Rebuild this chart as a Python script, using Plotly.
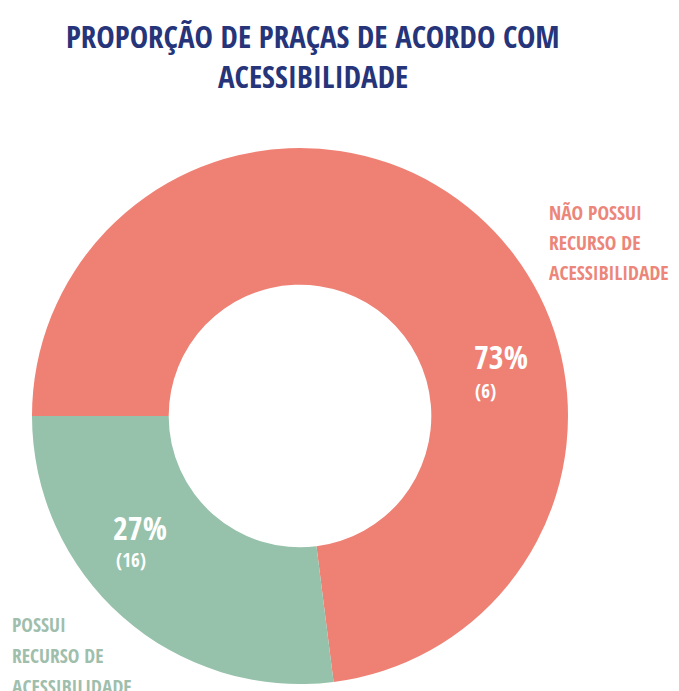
import plotly.graph_objects as go

# ---- data ----
title_lines = ["PROPORÇÃO DE PRAÇAS DE ACORDO COM", "ACESSIBILIDADE"]
categories = ["NÃO POSSUI RECURSO DE ACESSIBILIDADE", "POSSUI RECURSO DE ACESSIBILIDADE"]
percent_values = [73, 27]
count_labels = ["(6)", "(16)"]
label_lines_red = ["NÃO POSSUI", "RECURSO DE", "ACESSIBILIDADE"]
label_lines_green = ["POSSUI", "RECURSO DE", "ACESSIBILIDADE"]

OFF = 8  # page body margin
W, H = 679 - OFF, 691 - OFF  # figure fits inside the window (no scrollbars)
FONT = "Open Sans Condensed, Roboto Condensed, sans-serif"
RED = "#EF8074"
GREEN = "#96C1AA"
NAVY = "#26347A"
RED_TXT = "#EC867A"
GREEN_TXT = "#A0BEAC"

cx, cy, R = 300, 416, 268


def px(x):
    return (x - OFF) / W


def py(y):
    return 1 - (y - OFF) / H


fig = go.Figure(go.Pie(
    labels=categories,
    values=percent_values,
    hole=0.49,
    sort=False,
    direction="clockwise",
    rotation=270,
    marker=dict(colors=[RED, GREEN], line=dict(width=0)),
    textinfo="none",
    hoverinfo="label+percent",
    showlegend=False,
    domain=dict(x=[px(cx - R), px(cx + R)], y=[max(0, py(cy + R)), py(cy - R)]),
))

ann = []
# title
for t, y in zip(title_lines, [36, 76]):
    ann.append(dict(x=px(313), y=py(y), xref="paper", yref="paper", text="<b>%s</b>" % t,
                    showarrow=False, xanchor="center", yanchor="middle",
                    font=dict(family=FONT, size=31, color=NAVY)))

# percentages inside slices
pct_pos = [(472, 356), (111, 527)]
cnt_pos = [(473, 391), (114, 560)]
for v, c, (x1, y1), (x2, y2) in zip(percent_values, count_labels, pct_pos, cnt_pos):
    ann.append(dict(x=px(x1), y=py(y1), xref="paper", yref="paper", text="<b>%d%%</b>" % v,
                    showarrow=False, xanchor="left", yanchor="middle",
                    font=dict(family=FONT, size=32, color="white")))
    ann.append(dict(x=px(x2), y=py(y2), xref="paper", yref="paper", text="<b>%s</b>" % c,
                    showarrow=False, xanchor="left", yanchor="middle",
                    font=dict(family=FONT, size=19, color="white")))

# outside category labels
for i, t in enumerate(label_lines_red):
    ann.append(dict(x=px(547), y=py(212 + 30 * i), xref="paper", yref="paper", text="<b>%s</b>" % t,
                    showarrow=False, xanchor="left", yanchor="middle",
                    font=dict(family=FONT, size=19.5, color=RED_TXT)))
for i, t in enumerate(label_lines_green):
    ann.append(dict(x=px(10), y=py(624 + 31 * i), xref="paper", yref="paper", text="<b>%s</b>" % t,
                    showarrow=False, xanchor="left", yanchor="middle",
                    font=dict(family=FONT, size=19.5, color=GREEN_TXT)))

fig.update_layout(
    width=W, height=H,
    margin=dict(l=0, r=0, t=0, b=0),
    paper_bgcolor="white",
    plot_bgcolor="white",
    annotations=ann,
)

fig.write_html("out.html")
